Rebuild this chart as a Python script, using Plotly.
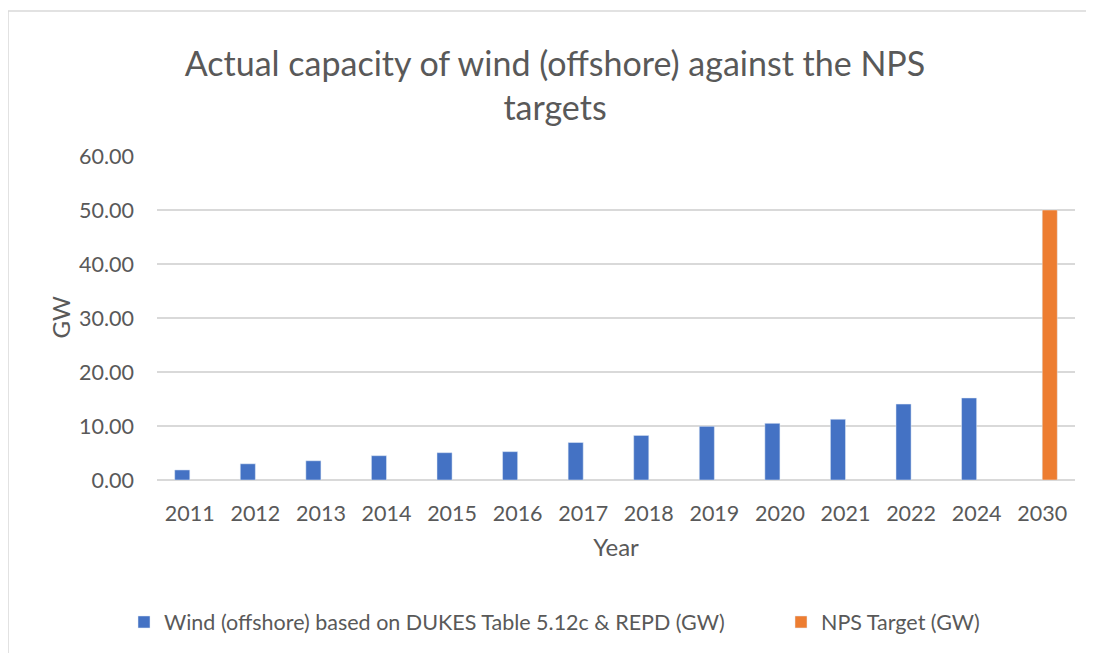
import plotly.graph_objects as go

years = ["2011", "2012", "2013", "2014", "2015", "2016", "2017", "2018", "2019", "2020", "2021", "2022", "2024", "2030"]
wind_offshore = [1.86, 3.0, 3.56, 4.5, 5.06, 5.25, 6.94, 8.25, 9.94, 10.5, 11.25, 14.06, 15.19, None]
nps_target = [None] * 13 + [50.0]

font_family = "Lato, Open Sans, sans-serif"
grey = "#595959"

fig = go.Figure()
fig.add_trace(go.Bar(x=years, y=wind_offshore, name="Wind (offshore) based on DUKES Table 5.12c & REPD (GW)",
                     marker_color="#4472C4", legend="legend"))
fig.add_trace(go.Bar(x=years, y=nps_target, name="NPS Target (GW)", marker_color="#ED7D31", legend="legend2"))

# page is offset by 8px body margin
W, H = 1094, 653
L, T = 149, 147
plot_right, plot_bottom = 1067, 472
R, B = W - plot_right, H - plot_bottom
pw, ph = plot_right - L, plot_bottom - T

legend_y = (plot_bottom - 614) / ph

fig.update_layout(
    width=W, height=H,
    margin=dict(l=L, r=R, t=T, b=B, autoexpand=False),
    paper_bgcolor="white", plot_bgcolor="white",
    barmode="group", bargap=0.54, bargroupgap=0,
    font=dict(family=font_family, color=grey, size=21),
    title=dict(text="Actual capacity of wind (offshore) against the NPS<br>targets",
               x=0.5, xanchor="center", y=0.896, yanchor="top",
               font=dict(size=34, color=grey, family=font_family)),
    xaxis=dict(showgrid=False, showline=False, ticks="", ticklabelstandoff=18, automargin=False,
               title=dict(text="Year", font=dict(size=24, color=grey), standoff=14),
               tickfont=dict(size=21.5, color=grey)),
    yaxis=dict(range=[0, 60.185], dtick=10, tickformat=".2f", showgrid=True, gridcolor="#d9d9d9", gridwidth=1.5,
               zeroline=True, zerolinecolor="#d9d9d9", zerolinewidth=1.5, showline=False,
               ticklabelstandoff=22, automargin=False,
               tickfont=dict(size=21.5, color=grey)),
    legend=dict(orientation="h", xref="container", x=116 / W, xanchor="left", y=legend_y, yanchor="middle",
                font=dict(size=21.5, color=grey), itemwidth=30),
    legend2=dict(orientation="h", xref="container", x=773 / W, xanchor="left", y=legend_y, yanchor="middle",
                 font=dict(size=21.5, color=grey), itemwidth=30),
    showlegend=True,
)

fig.add_annotation(text="GW", xref="paper", yref="paper", x=(52 - L) / pw, y=0.5,
                   xanchor="center", yanchor="middle", textangle=-90, showarrow=False,
                   font=dict(size=24, color=grey, family=font_family))

fig.add_shape(type="rect", xref="paper", yref="paper",
              x0=(0 - L) / pw, x1=(1120 - L) / pw, y0=(plot_bottom - 700) / ph, y1=(plot_bottom - 3) / ph,
              line=dict(color="#d9d9d9", width=1.5), fillcolor="rgba(0,0,0,0)", layer="below")

fig.write_html("out.html")
